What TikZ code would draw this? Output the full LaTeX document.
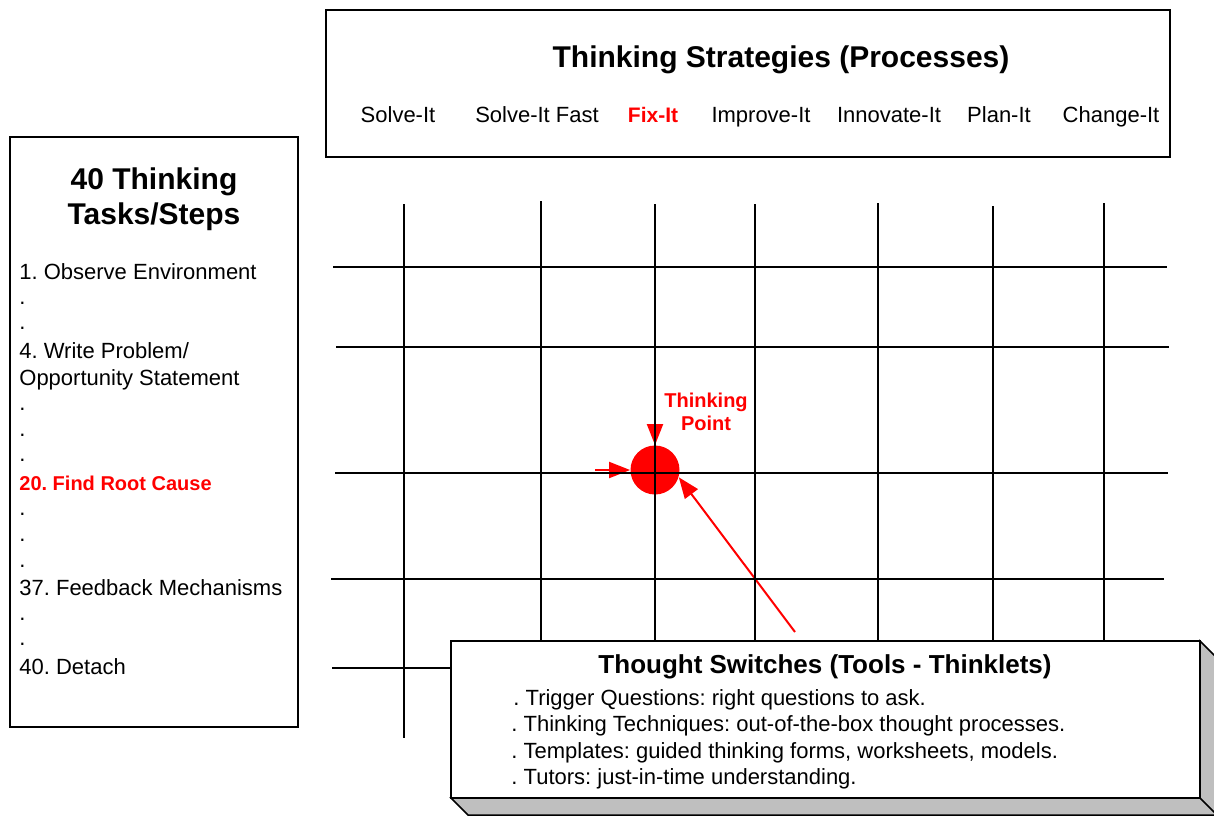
\documentclass[tikz,border=0pt]{standalone}
\usepackage{fontspec}
\setmainfont{Liberation Sans}
\usetikzlibrary{arrows.meta}
\frenchspacing

\tikzset{
  panel/.style={draw=black, line width=0.75pt},
  gridline/.style={black, line width=0.7pt},
  label/.style={inner sep=0pt, font=\fontsize{11}{13}\selectfont},
  heading/.style={inner sep=0pt, font=\fontsize{15}{18}\selectfont\bfseries},
  pick/.style={inner sep=0pt, text=red, font=\fontsize{10.5}{12}\selectfont\bfseries},
  pointer/.style={red, line width=1pt, -{Triangle[length=10.5pt,width=8pt]}},
}

\begin{document}
\begin{tikzpicture}[x=0.5pt, y=-0.5pt]
    \useasboundingbox (0,0) rectangle (1214,815);

    % thinking point and the arrows into it
    \node[circle, fill=red, minimum size=24.5pt, inner sep=0pt] (tp) at (655,470) {};
    \coordinate (tpabove) at (655,413);
    \coordinate (tpleft) at (595,470);
    \coordinate (tpswitch) at (795,632);
    \draw[pointer] (tpabove) -- (tp.north);
    \draw[pointer] (tpleft) -- (tp.west);
    \draw[pointer] (tpswitch) -- (tp.-17);
    \node[pick, font=\fontsize{10}{11.5}\selectfont\bfseries, align=center] (tplabel) at (706,412) {Thinking\\Point};

    % the grid
    \draw[gridline] (404,204) -- (404,738);
    \draw[gridline] (541,201) -- (541,738);
    \draw[gridline] (655,204) -- (655,738);
    \draw[gridline] (755,204) -- (755,738);
    \draw[gridline] (878,203) -- (878,738);
    \draw[gridline] (993,206) -- (993,738);
    \draw[gridline] (1104,203) -- (1104,738);
    \draw[gridline] (333,267) -- (1167,267);
    \draw[gridline] (336,347) -- (1169,347);
    \draw[gridline] (335,473) -- (1168,473);
    \draw[gridline] (331,579) -- (1164,579);
    \draw[gridline] (332,668) -- (1000,668);

    % strategies box
    \draw[panel] (326,10) rectangle (1170,157);
    \node[heading, anchor=base] (strategies) at (781,67) {Thinking Strategies (Processes)};
    \node[label, anchor=base] (solve) at (398,122) {Solve-It};
    \node[label, anchor=base] (solvefast) at (537,122) {Solve-It Fast};
    \node[pick, anchor=base] (fix) at (653,122) {Fix-It};
    \node[label, anchor=base] (improve) at (761,122) {Improve-It};
    \node[label, anchor=base] (innovate) at (889,122) {Innovate-It};
    \node[label, anchor=base] (plan) at (999,122) {Plan-It};
    \node[label, anchor=base] (change) at (1111,122) {Change-It};

    % tasks box
    \draw[panel] (10,137) rectangle (298,727);
    \node[heading, anchor=base] (tasksa) at (154,189) {40 Thinking};
    \node[heading, anchor=base] (tasksb) at (154,224) {Tasks/Steps};
    \node[label, anchor=base west] (observe) at (19,279) {1. Observe Environment};
    \node[label, anchor=base west] (dota) at (19,304) {.};
    \node[label, anchor=base west] (dotb) at (19,329) {.};
    \node[label, anchor=base west] (write) at (19,358) {4. Write Problem/};
    \node[label, anchor=base west] (opportunity) at (19,385) {Opportunity Statement};
    \node[label, anchor=base west] (dotc) at (19,410) {.};
    \node[label, anchor=base west] (dotd) at (19,436) {.};
    \node[label, anchor=base west] (dote) at (19,461) {.};
    \node[pick, font=\fontsize{10}{12}\selectfont\bfseries, anchor=base west] (rootcause) at (19,490) {20. Find Root Cause};
    \node[label, anchor=base west] (dotf) at (19,515) {.};
    \node[label, anchor=base west] (dotg) at (19,541) {.};
    \node[label, anchor=base west] (doth) at (19,567) {.};
    \node[label, anchor=base west] (feedback) at (19,595) {37. Feedback Mechanisms};
    \node[label, anchor=base west] (doti) at (19,620) {.};
    \node[label, anchor=base west] (dotj) at (19,645) {.};
    \node[label, anchor=base west] (detach) at (19,674) {40. Detach};

    % switches box, raised
    \filldraw[panel, fill=black!25] (451,798) -- (468,815) -- (1217,815) -- (1217,658) -- (1200,641) -- (1200,798) -- cycle;
    \draw[panel] (1200,798) -- (1217,815);
    \filldraw[panel, fill=white] (451,641) rectangle (1200,798);
    \node[heading, font=\fontsize{13}{15}\selectfont\bfseries, anchor=base] (switches) at (825,673) {Thought Switches (Tools - Thinklets)};
    \node[label, anchor=base west] (trigger) at (513,705) {. Trigger Questions: right questions to ask.};
    \node[label, anchor=base west] (techniques) at (511,731) {. Thinking Techniques: out-of-the-box thought processes.};
    \node[label, anchor=base west] (templates) at (511,758) {. Templates: guided thinking forms, worksheets, models.};
    \node[label, anchor=base west] (tutors) at (511,784) {. Tutors: just-in-time understanding.};
\end{tikzpicture}
\end{document}
